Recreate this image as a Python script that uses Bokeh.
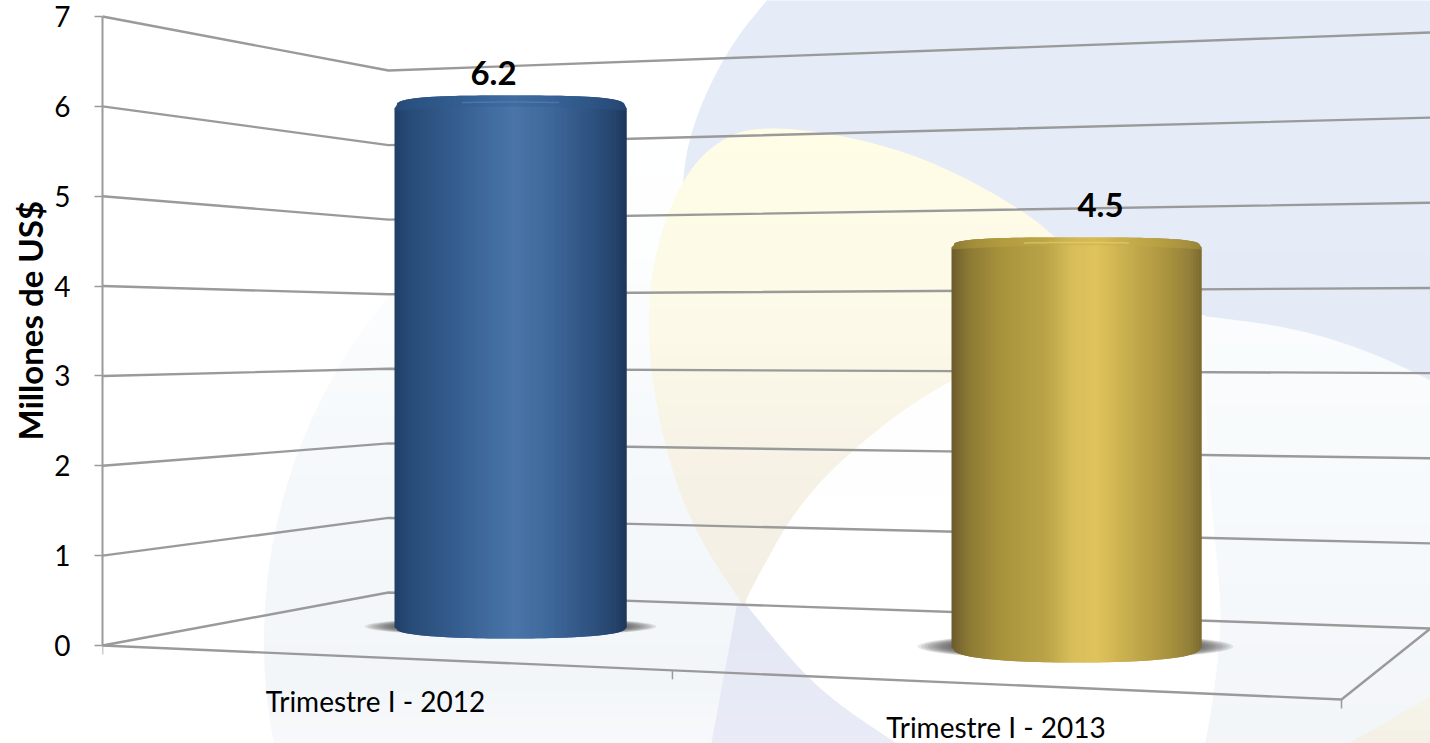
import numpy as np
from bokeh.plotting import figure
from bokeh.embed import file_html
from bokeh.resources import INLINE
from bokeh.models import Range1d, FixedTicker, Title
from bokeh.core.properties import value

# ---------- data ----------
categories = ["Trimestre I - 2012", "Trimestre I - 2013"]
values = [6.2, 4.5]
value_labels = ["6.2", "4.5"]
y_ticks = [0, 1, 2, 3, 4, 5, 6, 7]
y_title = "Millones de US$"

# ---------- layout: reference pixels and perspective ----------
W, H = 1430, 743
LEFT = 102
PY0, PPU = 645.0, 629.0 / 7          # front wall: pixel of value 0, pixels per unit
BACK_L = (388, 592.0, 74.57)         # back-left corner: x, pixel of 0, pixels per unit
BACK_R = (1430, 628.0, 85.14)        # back-right end
FRONT_R = (1341, 699.0)              # front-right corner of the floor
FRONT_FRAC = [0, 0.46, 1]            # category boundaries along the front edge
GRID = "#9a9a9a"
LABEL_FONT = "Lato"

def Y(px):
    return (PY0 - np.asarray(px, dtype=float)) / PPU

p = figure(width=W, height=H, output_backend="svg", toolbar_location=None,
           x_range=Range1d(LEFT, W), y_range=Range1d(float(Y(H)), float(Y(0))),
           min_border_left=LEFT, min_border_right=0, min_border_top=0, min_border_bottom=0,
           background_fill_color="white", border_fill_color="white", outline_line_color=None)
p.xaxis.visible = False
p.xgrid.visible = False
p.ygrid.visible = False

ax = p.yaxis[0]
ax.ticker = FixedTicker(ticks=y_ticks)
ax.bounds = (0, 7)
ax.axis_line_color = GRID
ax.axis_line_width = 2
ax.major_tick_line_color = GRID
ax.major_tick_line_width = 1.5
ax.major_tick_out = 8
ax.major_tick_in = 0
ax.minor_tick_line_color = None
ax.major_label_text_font = LABEL_FONT
ax.major_label_text_font_size = "28px"
ax.major_label_text_color = "black"
ax.major_label_standoff = 24

p.add_layout(Title(text=y_title, align="left", offset=303, standoff=3,
                   text_font=LABEL_FONT, text_font_style="bold", text_font_size="33px",
                   text_color="black"), "left")

# ---------- background ----------
def smooth(pts, n=3):
    a = np.asarray(pts, dtype=float)
    for _ in range(n):
        q = 0.75 * a[:-1] + 0.25 * a[1:]
        r = 0.25 * a[:-1] + 0.75 * a[1:]
        m = np.empty((2 * len(q), 2))
        m[0::2], m[1::2] = q, r
        a = np.vstack([a[0], m, a[-1]])
    return a

def clip(poly, y0, y1):
    def half(pl, keep, cross):
        out = []
        for i in range(len(pl)):
            a, b = pl[i], pl[(i + 1) % len(pl)]
            ka, kb = keep(a), keep(b)
            if ka:
                out.append(a)
            if ka != kb:
                t = (cross - a[1]) / (b[1] - a[1])
                out.append((a[0] + t * (b[0] - a[0]), cross))
        return out
    pl = [tuple(v) for v in poly]
    pl = half(pl, lambda v: v[1] >= y0, y0)
    if pl:
        pl = half(pl, lambda v: v[1] <= y1, y1)
    return pl

def lerp_colour(stops, t):
    pos = [s[0] for s in stops]
    rgb = [[int(s[1][i:i + 2], 16) for i in (1, 3, 5)] for s in stops]
    c = [int(round(np.interp(t, pos, [r[k] for r in rgb]))) for k in range(3)]
    return "#%02x%02x%02x" % tuple(c)

def painted(poly, stops, band=12):
    poly = np.asarray(poly)
    ytop, ybot = poly[:, 1].min(), poly[:, 1].max()
    xs, ys, cols = [], [], []
    for y0 in np.arange(ytop, ybot, band):
        pl = clip(poly, y0, y0 + band)
        if len(pl) < 3:
            continue
        a = np.array(pl)
        xs.append(a[:, 0].tolist())
        ys.append(Y(a[:, 1]).tolist())
        cols.append(lerp_colour(stops, y0 + band / 2))
    p.patches(xs, ys, fill_color=cols, line_color=cols, line_width=1)

# pale large circle on the left
th = np.linspace(0, 2 * np.pi, 240)
pale = np.column_stack([800 + 536 * np.cos(th), 640 + 536 * np.sin(th)])
pale = pale[pale[:, 1] < 760]
painted(pale, [(104, "#ffffff"), (250, "#fdfefe"), (430, "#f6f9fb"), (680, "#f3f6f9"), (745, "#f8f9fb")])

# blue shape
blue_edge = smooth([(775, -10), (728, 47), (690, 128), (680, 200), (690, 300)])
blue = np.vstack([blue_edge, [(800, 500), (1440, 500), (1440, -10)]])
painted(blue, [(0, "#e5ecf7"), (500, "#e4ebf6")])

# yellow shape
yel_edge = smooth([(744, 606), (700, 540), (672, 474), (651, 380), (648, 300), (660, 230), (690, 165),
                   (730, 133), (770, 127), (830, 133), (900, 150), (960, 175), (1018, 208), (1054, 235), (1150, 330)])
painted(yel_edge, [(127, "#fffde6"), (330, "#fcf9e8"), (480, "#f6f1e5"), (606, "#f4efe5")])

# lavender lens at the bottom
lens = np.vstack([smooth([(745, 603), (800, 670), (840, 705), (900, 745)]), [(711, 745), (737, 605)]])
painted(lens, [(603, "#e3e7f3"), (745, "#e9ecf7")])

# region on the right
right = np.vstack([smooth([(1195, 315), (1291, 327), (1369, 351), (1440, 385)]), [(1440, 745), (1195, 745)]])
painted(right, [(315, "#fafcfd"), (500, "#f7fafc"), (745, "#f3f5f8")], band=30)
corner = np.vstack([smooth([(1345, 745), (1390, 720), (1440, 690)]), [(1440, 745)]])
painted(corner, [(690, "#f7f4ea"), (745, "#f4f0e5")], band=20)

# white lens
white = np.vstack([
    smooth([(745, 603), (749, 592), (801, 498), (878, 427), (950, 379), (1050, 335), (1130, 318), (1204, 315)]),
    smooth([(1204, 315), (1206, 450), (1212, 520), (1220, 600), (1219, 640), (1212, 700), (1204, 745)]),
    smooth([(900, 745), (840, 705), (800, 670), (745, 603)]),
])
painted(white, [(300, "#fefefe"), (745, "#ffffff")], band=60)

# ---------- perspective grid ----------
def wall_x():
    return [LEFT, BACK_L[0], BACK_R[0]]

def wall_y(v):
    return [PY0 - PPU * v, BACK_L[1] - BACK_L[2] * v, BACK_R[1] - BACK_R[2] * v]

p.multi_line([wall_x() for v in y_ticks], [Y(wall_y(v)).tolist() for v in y_ticks],
             line_color=GRID, line_width=2.4)
# floor edges and category ticks
fx = [LEFT + (FRONT_R[0] - LEFT) * f for f in FRONT_FRAC]
fy = [PY0 + (FRONT_R[1] - PY0) * f for f in FRONT_FRAC]
p.line([LEFT, FRONT_R[0], BACK_R[0]], Y([PY0, FRONT_R[1], BACK_R[1]]).tolist(), line_color=GRID, line_width=2.4)
p.multi_line([[x, x] for x in fx], [Y([y, y + 9]).tolist() for y in fy], line_color=GRID, line_width=1.5)

# ---------- cylinders ----------
bar_left = [394, 951]
bar_right = [626, 1201]
bar_base = [627, 647]
bar_scale = [83.7, 88.9]
bar_bottom_h = [11, 15]
bar_cap_h = [13, 10]
shadow_l = [364, 917]
shadow_r = [656, 1233]
label_gap = [36, 42]
label_dx = [-17, 24]
cat_dx, cat_dy = [-12, -11], [42.6, 41.6]

ramp_blue = [(0, "#1f3f66"), (.06, "#274b76"), (.22, "#33598a"), (.42, "#426da0"), (.52, "#4a75a8"),
             (.68, "#3d6799"), (.85, "#2e5280"), (.95, "#25436c"), (1, "#1e3658")]
ramp_gold = [(0, "#6d5c2c"), (.07, "#8c7a35"), (.2, "#a8933c"), (.38, "#b9a448"), (.48, "#d8bd5a"),
             (.58, "#dfc35b"), (.72, "#c4ab4c"), (.87, "#a8923e"), (.95, "#93803a"), (1, "#7d6b2f")]
ramps = [ramp_blue, ramp_gold]
cap_col = ["#2f5d93", "#c6ab48"]
hi_col = ["#5c8cc0", "#ecd774"]

for i, val in enumerate(values):
    xl, xr, yb = bar_left[i], bar_right[i], bar_base[i]
    yt = yb - val * bar_scale[i]
    cx, hw = (xl + xr) / 2, (xr - xl) / 2
    bot_h, cap_h = bar_bottom_h[i], bar_cap_h[i]

    # soft floor shadow
    sc, sw = (shadow_l[i] + shadow_r[i]) / 2, (shadow_r[i] - shadow_l[i]) / 2
    sy = yb - 1
    t = np.linspace(0, 2 * np.pi, 60)
    for k in range(10):
        f = 1 - k * 0.022
        p.patch((sc + sw * f * np.cos(t)).tolist(), Y(sy + (bot_h * 0.85) * f * np.sin(t)).tolist(),
                fill_color="#404040", fill_alpha=0.12, line_color=None)

    # body, drawn as overlapping vertical strips so it shades like a cylinder
    N = 90
    edges = np.linspace(-1, 1, N + 1)
    top = lambda t: yt - cap_h * (1 - np.abs(t) ** 3.2) ** (1 / 3.2)
    bot = lambda t: yb + bot_h * (1 - np.abs(t) ** 2.3) ** (1 / 2.3)
    xs, ys, cols = [], [], []
    for j in range(N):
        a, b = edges[j], edges[min(j + 2, N)]
        xs.append([cx + a * hw, cx + b * hw, cx + b * hw, cx + a * hw])
        ys.append(Y([top(a), top(b), bot(b), bot(a)]).tolist())
        cols.append(lerp_colour(ramps[i], ((edges[j] + edges[j + 1]) / 2 + 1) / 2))
    p.patches(xs, ys, fill_color=cols, line_color=None)

    # cap and its highlight
    tt = np.linspace(-1, 1, 80)
    cap_x = np.concatenate([cx + tt * hw, cx + tt[::-1] * hw])
    cap_y = np.concatenate([top(tt), (yt + 2 - 4 * (1 - tt[::-1] ** 2))])
    p.patch(cap_x.tolist(), Y(cap_y).tolist(), fill_color=cap_col[i], fill_alpha=0.35, line_color=None)
    hx = np.linspace(-0.42, 0.42, 30)
    p.line((cx + hx * hw).tolist(), Y(yt - cap_h * 0.5 + 3 * hx ** 2).tolist(),
           line_color=hi_col[i], line_width=1.5, line_alpha=0.5)

    # value label
    p.text([cx + label_dx[i]], [float(Y(yt - label_gap[i]))], text=[value_labels[i]],
           text_font=value(LABEL_FONT), text_font_style="bold", text_font_size="33px",
           text_color="black", text_align="center", text_baseline="middle")

    # category label, placed from the middle of its stretch of the front edge
    mx, my = (fx[i] + fx[i + 1]) / 2, (fy[i] + fy[i + 1]) / 2
    p.text([mx + cat_dx[i]], [float(Y(my + cat_dy[i]))], text=[categories[i]],
           text_font=value(LABEL_FONT), text_font_size="28px",
           text_color="black", text_align="center", text_baseline="middle")

open("out.html", "w").write(file_html(p, INLINE))
